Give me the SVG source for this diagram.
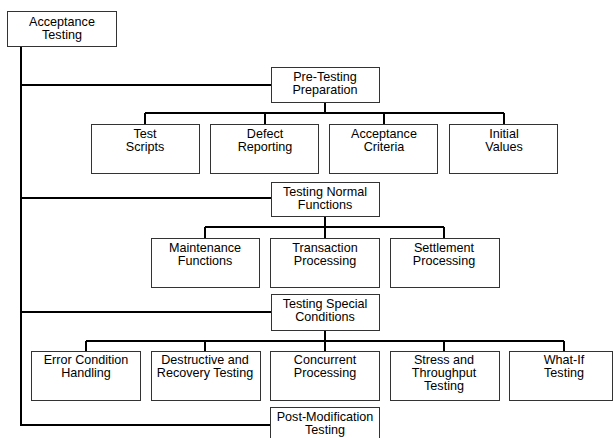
<svg xmlns="http://www.w3.org/2000/svg" width="613" height="438" viewBox="0 0 613 438">
<style>
.b{fill:#fff;stroke:#333;stroke-width:1}
.t{font-family:"Liberation Sans",Arial,sans-serif;font-size:12.6px;fill:#000;text-anchor:middle}
.c{fill:none;stroke:#000;stroke-width:2}
</style>
<rect width="613" height="438" fill="#fff"/>
<g id="connectors">
<path class="c" d="M21 47V425H271M21 85H271M21 198H271M21 312H271"/>
<path class="c" d="M325 103V113M145 113H504M145 113V124M265 113V124M384 113V124M504 113V124"/>
<path class="c" d="M325 216V227M205 227H444M205 227V238M325 227V238M444 227V238"/>
<path class="c" d="M325 330V341M86 341H564M86 341V351M205 341V351M325 341V351M444 341V351M564 341V351"/>
</g>
<g id="n-root"><rect class="b" x="7.5" y="11.5" width="109" height="35"/><text class="t" x="62" y="26">Acceptance</text><text class="t" x="62" y="39">Testing</text></g>
<g id="n-pre"><rect class="b" x="271.5" y="67.5" width="108" height="35"/><text class="t" x="325" y="81">Pre-Testing</text><text class="t" x="325" y="94">Preparation</text></g>
<g id="n-scripts"><rect class="b" x="91.5" y="124.5" width="108" height="49"/><text class="t" x="145" y="138">Test</text><text class="t" x="145" y="151">Scripts</text></g>
<g id="n-defect"><rect class="b" x="210.5" y="124.5" width="108" height="49"/><text class="t" x="265" y="138">Defect</text><text class="t" x="265" y="151">Reporting</text></g>
<g id="n-criteria"><rect class="b" x="329.5" y="124.5" width="108" height="49"/><text class="t" x="384" y="138">Acceptance</text><text class="t" x="384" y="151">Criteria</text></g>
<g id="n-initial"><rect class="b" x="449.5" y="124.5" width="108" height="49"/><text class="t" x="504" y="138">Initial</text><text class="t" x="504" y="151">Values</text></g>
<g id="n-normal"><rect class="b" x="271.5" y="182.5" width="108" height="34"/><text class="t" x="325" y="196">Testing Normal</text><text class="t" x="325" y="209">Functions</text></g>
<g id="n-maint"><rect class="b" x="151.5" y="238.5" width="108" height="49"/><text class="t" x="205" y="252">Maintenance</text><text class="t" x="205" y="265">Functions</text></g>
<g id="n-trans"><rect class="b" x="270.5" y="238.5" width="109" height="49"/><text class="t" x="325" y="252">Transaction</text><text class="t" x="325" y="265">Processing</text></g>
<g id="n-settle"><rect class="b" x="390.5" y="238.5" width="109" height="49"/><text class="t" x="444" y="252">Settlement</text><text class="t" x="444" y="265">Processing</text></g>
<g id="n-special"><rect class="b" x="271.5" y="294.5" width="108" height="36"/><text class="t" x="325" y="308">Testing Special</text><text class="t" x="325" y="321">Conditions</text></g>
<g id="n-error"><rect class="b" x="31.5" y="351.5" width="109" height="49"/><text class="t" x="86" y="364">Error Condition</text><text class="t" x="86" y="377">Handling</text></g>
<g id="n-destr"><rect class="b" x="151.5" y="351.5" width="109" height="49"/><text class="t" x="205" y="364">Destructive and</text><text class="t" x="205" y="377">Recovery Testing</text></g>
<g id="n-conc"><rect class="b" x="270.5" y="351.5" width="109" height="49"/><text class="t" x="325" y="364">Concurrent</text><text class="t" x="325" y="377">Processing</text></g>
<g id="n-stress"><rect class="b" x="390.5" y="351.5" width="109" height="49"/><text class="t" x="444" y="364">Stress and</text><text class="t" x="444" y="377">Throughput</text><text class="t" x="444" y="390">Testing</text></g>
<g id="n-whatif"><rect class="b" x="509.5" y="351.5" width="103" height="49"/><text class="t" x="564" y="364">What-If</text><text class="t" x="564" y="377">Testing</text></g>
<g id="n-post"><rect class="b" x="270.5" y="407.5" width="109" height="40"/><text class="t" x="325" y="421">Post-Modification</text><text class="t" x="325" y="434">Testing</text></g>
</svg>
